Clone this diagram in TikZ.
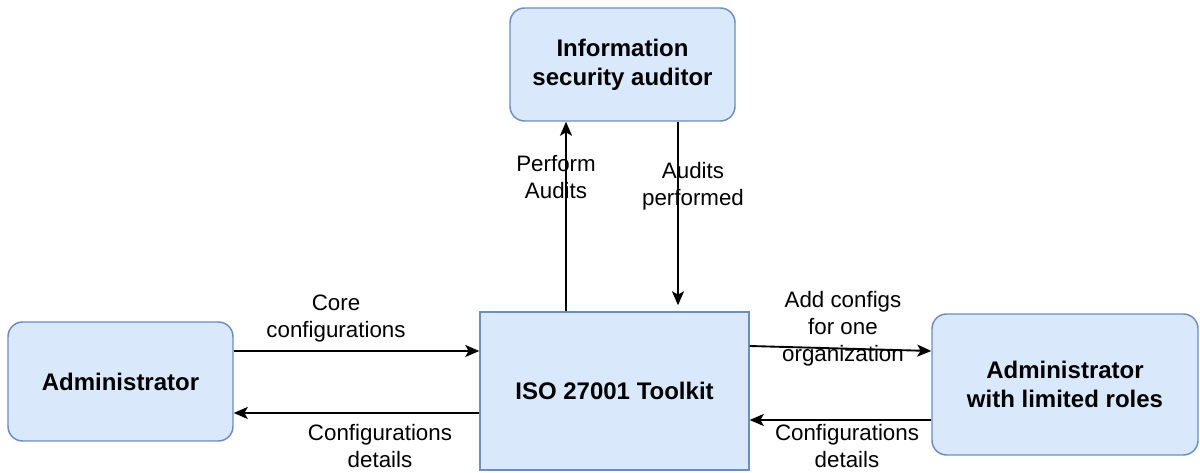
\documentclass[tikz,border=0pt]{standalone}
\usepackage{fontspec}
\setmainfont{Liberation Sans}
\usetikzlibrary{arrows.meta,calc}
\definecolor{boxfill}{HTML}{DAE8FC}
\definecolor{boxdraw}{HTML}{6C8EBF}
\begin{document}
\begin{tikzpicture}[x=0.75pt,y=-0.75pt,
  actor/.style={draw=boxdraw,fill=boxfill,line width=1.1pt,rounded corners=11pt,
    align=center,inner sep=0pt,font=\fontsize{18}{21.5}\selectfont\bfseries},
  sysbox/.style={draw=boxdraw,fill=boxfill,line width=1.1pt,
    align=center,inner sep=0pt,font=\fontsize{18}{21.5}\selectfont\bfseries},
  arr/.style={line width=1.4pt,-{Stealth[length=10.5pt,width=9pt,inset=2.5pt]}},
  lbl/.style={align=center,inner sep=0pt,font=\fontsize{16.75}{20.25}\selectfont}]
\useasboundingbox (0,0) rectangle (1200,473);
\node[actor,minimum width=168.75pt,minimum height=84.75pt] (aud) at (622.5,64.5) {Information\\security auditor};
\node[actor,minimum width=168.75pt,minimum height=89.25pt] (adm) at (120.5,381.5) {Administrator};
\node[sysbox,minimum width=201.75pt,minimum height=118.5pt] (iso) at (614.5,391) {ISO 27001 Toolkit};
\node[actor,minimum width=199.5pt,minimum height=105.75pt] (lim) at (1065,384.5) {Administrator\\with limited roles};
% left arrows
\draw[arr] ($(adm.east)+(0,-30.5)$) -- ($(iso.west)+(0,-40)$);
\draw[arr] ($(iso.west)+(0,22)$) -- ($(adm.east)+(0,31.5)$);
% vertical arrows
\draw[arr] ($(iso.north)+(-48.5,0)$) -- ($(aud.south)+(-56.5,0)$);
\coordinate (auditend) at ($(iso.north)+(63.5,-6)$);
\draw[arr] ($(aud.south)+(55.5,0)$) -- (auditend);
% right arrows
\draw[arr] ($(iso.east)+(0,-45)$) -- ($(lim.west)+(0,-33.5)$);
\draw[arr] ($(lim.west)+(0,35.5)$) -- ($(iso.east)+(0,29)$);
% labels
\node[lbl] (l1) at (336,319) {Core\\configurations};
\node[lbl] (l2) at (380,446.5) {Configurations\\details};
\node[lbl] (l3) at (556,177) {Perform\\Audits};
\node[lbl] (l4) at (693,186) {Audits\\performed};
\node[lbl] (l5) at (843,328.5) {Add configs\\for one\\organization};
\node[lbl] (l6) at (847,446.5) {Configurations\\details};
\end{tikzpicture}
\end{document}
